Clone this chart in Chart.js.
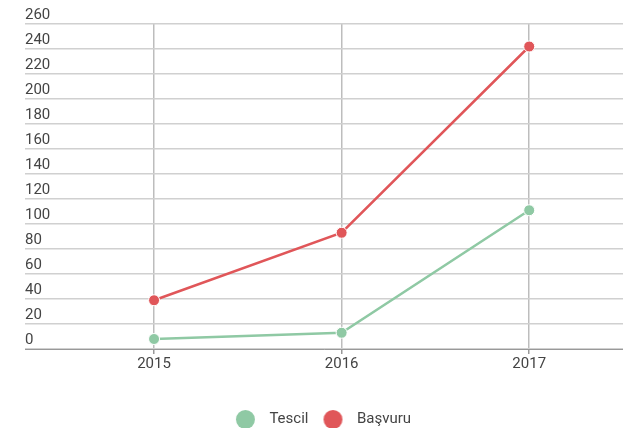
<!DOCTYPE html>
<html><head><meta charset="utf-8">
<script src="https://cdn.jsdelivr.net/npm/chart.js@4/dist/chart.umd.min.js"></script>
<style>html,body{margin:0;padding:0;background:#fff;overflow:hidden}#wrap{width:623px;height:428px;position:relative}</style>
</head><body><div id="wrap"><canvas id="c"></canvas></div>
<script>
const categories = ['2015', '2016', '2017'];
const tescil = [8, 13, 111];
const basvuru = [39, 93, 242];
const seriesNames = ['Tescil', 'Başvuru'];
const seriesColors = ['#8fc9a4', '#e05659'];
const yTickMin = 0, yTickMax = 260, yTickStep = 20;

function makeDot(color, r) {
  const s = Math.ceil(r * 2 + 2);
  const cv = document.createElement('canvas');
  cv.width = s; cv.height = s;
  const g = cv.getContext('2d');
  g.fillStyle = color;
  g.beginPath(); g.arc(s / 2, s / 2, r, 0, Math.PI * 2); g.fill();
  return cv;
}
const dots = seriesColors.map(c => makeDot(c, 9.5));

function pts(arr) { return arr.map((v, i) => ({ x: +categories[i], y: v })); }

const legendShift = {
  id: 'legendShift',
  afterLayout(chart) { const l = chart.legend; if (l) { l.left -= 4; l.right -= 4; } }
};

const chart = new Chart(document.getElementById('c'), {
  type: 'line',
  data: {
    datasets: [
      { label: seriesNames[0], data: pts(tescil), borderColor: seriesColors[0], backgroundColor: seriesColors[0],
        borderWidth: 2.5, pointRadius: 5.5, pointBorderColor: '#fff', pointBorderWidth: 1, tension: 0 },
      { label: seriesNames[1], data: pts(basvuru), borderColor: seriesColors[1], backgroundColor: seriesColors[1],
        borderWidth: 2.5, pointRadius: 5.5, pointBorderColor: '#fff', pointBorderWidth: 1, tension: 0 }
    ]
  },
  plugins: [legendShift],
  options: {
    responsive: true, maintainAspectRatio: false, animation: false,
    layout: { autoPadding: false, padding: { left: 25, right: 0, top: 24, bottom: -9 } },
    plugins: {
      tooltip: { enabled: false },
      legend: {
        position: 'bottom',
        labels: {
          usePointStyle: true, pointStyleWidth: 33, padding: 8,
          font: { family: 'Roboto', size: 15 }, color: '#444',
          generateLabels(chart) {
            const items = Chart.defaults.plugins.legend.labels.generateLabels(chart);
            items.forEach((it, i) => { it.pointStyle = dots[i]; });
            return items;
          }
        }
      }
    },
    scales: {
      x: {
        type: 'linear', min: 2014.312, max: 2017.5,
        afterBuildTicks(scale) { scale.ticks = categories.map(c => ({ value: +c })); },
        afterFit(scale) { scale.height += 30; },
        ticks: { font: { family: 'Roboto', size: 15 }, color: '#444', padding: 1,
          callback: (v) => String(v) },
        grid: { color: '#bdbdbd', lineWidth: 1.5, drawTicks: true, tickLength: 5, tickColor: '#999' },
        border: { display: true, color: '#999', width: 1 }
      },
      y: {
        min: yTickMin, max: yTickMax,
        ticks: { stepSize: yTickStep, mirror: true, padding: 0, labelOffset: -9,
          font: { family: 'Roboto', size: 15 }, color: '#444' },
        grid: { color: '#d0d0d0', lineWidth: 1.5, drawTicks: false },
        border: { display: false }
      }
    }
  }
});
</script>
</body></html>
